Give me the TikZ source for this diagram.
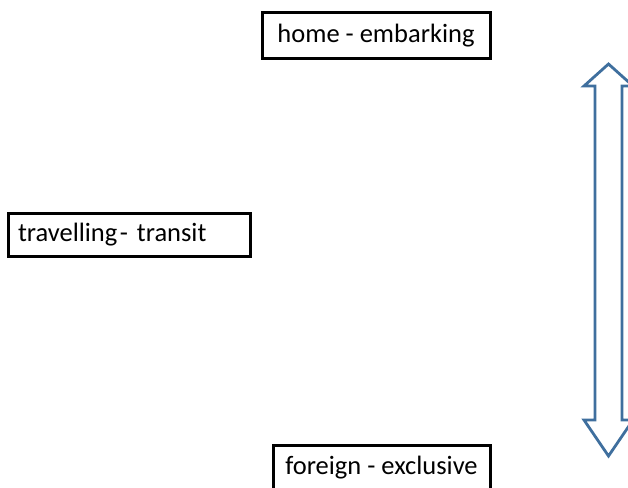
\documentclass[tikz,border=0pt]{standalone}
\usepackage{fontspec}
\setmainfont{Carlito}
\definecolor{arrowblue}{HTML}{3F6F9E}
\begin{document}
\begin{tikzpicture}[x=1pt,y=-1pt,
  labelbox/.style={draw=black,line width=3pt,fill=white,inner sep=0pt,
    minimum height=45pt,font=\fontsize{26.5}{30}\selectfont},
  blockarrow/.style={draw=arrowblue,line width=2.8pt,fill=white,line join=miter}]
\useasboundingbox (0,0) rectangle (628,487);
\clip (0,0) rectangle (628,487);
\node[labelbox,minimum width=228pt] (home) at (376,35.5) {home - embarking};
\node[labelbox,minimum height=43pt,text width=222pt,inner xsep=10pt,align=left] (travel) at (129,234.5) {travelling\hspace{0.1em}- transit};
\node[labelbox,minimum width=217pt] (foreign) at (381.5,467.5) {foreign - exclusive};
\draw[blockarrow] (608.5,64) -- (633,86) -- (622,86) -- (622,420) -- (633,420) -- (608.5,456)
  -- (584,420) -- (595,420) -- (595,86) -- (584,86) -- cycle;
\end{tikzpicture}
\end{document}
